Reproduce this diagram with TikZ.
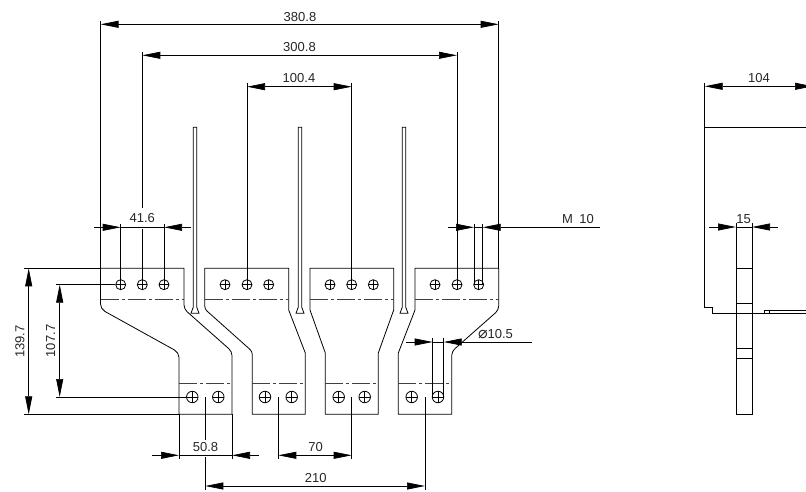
\documentclass[tikz,border=0pt]{standalone}
\usepackage{fontspec}
\setmainfont{Liberation Sans}
\newfontfamily\symfont{DejaVu Sans}
\usetikzlibrary{arrows.meta}
\tikzset{
    part/.style={draw, line width=0.8pt},
    centre/.style={draw, line width=0.8pt, black!75, dash pattern=on 18pt off 3pt on 3pt off 3pt},
    ext/.style={draw, line width=0.7pt},
    dim/.style={draw, line width=0.7pt, {Triangle[length=18pt,width=7pt]}-{Triangle[length=18pt,width=7pt]}},
    tip/.style={-{Triangle[length=18pt,width=7pt]}, line width=0.7pt},
    lbl/.style={font=\fontsize{13}{13}\selectfont, inner sep=0pt, text=black!85},
    hole/.style={circle, draw, line width=0.8pt, inner sep=0pt, minimum size=#1,
        path picture={\draw[line width=0.6pt] (path picture bounding box.north) -- (path picture bounding box.south)
            (path picture bounding box.west) -- (path picture bounding box.east);}},
    hole/.default=10pt
}
\begin{document}
\begin{tikzpicture}[x=1pt, y=-1pt]
    \useasboundingbox (0,0) rectangle (806,492);
    % upper and lower holes
    \foreach \nm/\xx in {a1/120.7, a2/142.3, a3/164, b1/225, b2/247, b3/268.7, c1/330, c2/351.7, c3/373.3, d1/435, d2/457, d3/478.7}
        \node[hole] (\nm) at (\xx,284.7) {};
    \foreach \nm/\xx in {e1/192.3, e2/218.3, f1/265, f2/291.7, g1/338.7, g2/364.7, h1/411.7, h2/438}
        \node[hole=11.5pt] (\nm) at (\xx,397) {};
    % plates
    \draw[part] (100.5,268.3) -- (184,268.3) [rounded corners=4pt] -- (184,309) -- (232,351.5) [sharp corners] -- (232,414.3) -- (179,414.3) [rounded corners=5pt] -- (179,352.5) -- (100.5,309) [sharp corners] -- cycle;
    \draw[part] (204.7,268.3) -- (288.7,268.3) -- (288.7,310) -- (305.3,353) -- (305.3,414.3) -- (252.3,414.3) [rounded corners=3pt] -- (252.3,351.5) -- (204.7,309) [sharp corners] -- cycle;
    \draw[part] (310,268.3) -- (393.7,268.3) -- (393.7,310) -- (378.3,353) -- (378.3,414.3) -- (325.3,414.3) -- (325.3,353) -- (310,310) -- cycle;
    \draw[part] (415,268.3) -- (498.7,268.3) [rounded corners=4pt] -- (498.7,310) -- (451.7,351.5) [sharp corners] -- (451.7,414.3) -- (398.3,414.3) -- (398.3,353) -- (415,310) -- cycle;
    % centre lines
    \foreach \xa/\xb in {100.5/184, 204.7/288.7, 310/393.7, 415/498.7}
        \path[centre] (\xa,299.7) -- (\xb,299.7);
    \foreach \xa/\xb in {179/232, 252.3/305.3, 325.3/378.3, 398.3/451.7}
        \path[centre] (\xa,383) -- (\xb,383);
    % thin pins
    \foreach \xx in {195, 300, 404}
        \draw[part] (\xx-1.7,127.3) -- (\xx+1.7,127.3) -- (\xx+1.7,307) -- (\xx+4,313.3) -- (\xx-4,313.3) -- (\xx-1.7,307) -- cycle;
    % side view
    \coordinate (s1) at (704.7,86.3);
    \coordinate (s2) at (813,86.3);
    \draw[part] (s1) -- (704.7,307.7) -- (712.3,307.7) -- (712.3,313.3) -- (736,313.3);
    \draw[part] (704.7,127.3) -- (806,127.3);
    \draw[part] (736,227) rectangle (752,414.3);
    \foreach \yy in {268.3, 303.3, 313, 348.7, 358}
        \draw[part] (736,\yy) -- (752,\yy);
    \draw[part] (752,313.3) -- (806,313.3);
    \draw[part] (806,310.7) -- (764,310.7) -- (764,313.3);
    \draw[part] (769,310.7) -- (769,313.3);
    \draw[ext] (704.7,83) -- (s1);
    \path[dim] (s1) -- (s2);
    \node[lbl] (n104) at (759,78) {104};
    \coordinate (w1) at (736,227);
    \coordinate (w2) at (752,227);
    \draw[ext] (736,223) -- (w1) (752,223) -- (w2);
    \draw[tip] (718,227) -- (w1);
    \draw[tip] (770,227) -- (w2);
    \draw[ext] (709.3,227) -- (718,227) (770,227) -- (778.3,227);
    \node[lbl] (n15) at (743.7,219) {15};
    % top dimensions
    \coordinate (t1) at (100.5,24.3);
    \coordinate (t2) at (498.7,24.3);
    \coordinate (u1) at (142.3,55.3);
    \coordinate (u2) at (457,55.3);
    \coordinate (v1) at (247,86.7);
    \coordinate (v2) at (351.7,86.7);
    \path[dim] (t1) -- (t2);
    \path[dim] (u1) -- (u2);
    \path[dim] (v1) -- (v2);
    \draw[ext] (100.5,21) -- (100.5,268.3);
    \draw[ext] (498.7,21) -- (498.7,268.3);
    \draw[ext] (142.3,52) -- (142.3,208) (142.3,229) -- (a2.center);
    \draw[ext] (457,52) -- (d2.center);
    \draw[ext] (247,83) -- (b2.center);
    \draw[ext] (351.7,83) -- (c2.center);
    \node[lbl] (n380) at (300,17) {380.8};
    \node[lbl] (n300) at (299.5,47.5) {300.8};
    \node[lbl] (n100) at (299,78.5) {100.4};
    % hole spacing and thread
    \coordinate (p1) at (120.7,227.3);
    \coordinate (p2) at (164,227.3);
    \draw[ext] (94,227.3) -- (101,227.3) (182.7,227.3) -- (190.7,227.3);
    \draw[tip] (101,227.3) -- (p1);
    \draw[tip] (182.7,227.3) -- (p2);
    \draw[ext] (p1) -- (p2);
    \draw[ext] (120.7,223.5) -- (a1.center);
    \draw[ext] (164,223.5) -- (a3.center);
    \node[lbl] (n41) at (142.3,218.5) {41.6};
    \coordinate (q1) at (474,227.3);
    \coordinate (q2) at (482.7,227.3);
    \draw[tip] (456,227.3) -- (q1);
    \draw[tip] (500.7,227.3) -- (q2);
    \draw[ext] (447.7,227.3) -- (456,227.3) (q1) -- (q2) (500.7,227.3) -- (600,227.3);
    \draw[ext] (474,223.5) -- (474,284.7);
    \draw[ext] (482.7,223.5) -- (482.7,284.7);
    \node[lbl] (m10) at (578,219) {M\hspace{3pt} 10};
    % left dimensions
    \coordinate (l1) at (28.7,268.3);
    \coordinate (l2) at (28.7,414.3);
    \coordinate (k1) at (59.7,284.7);
    \coordinate (k2) at (59.7,397);
    \path[dim] (l1) -- (l2);
    \path[dim] (k1) -- (k2);
    \draw[ext] (24.3,268.3) -- (100.5,268.3);
    \draw[ext] (24.3,414.3) -- (179,414.3);
    \draw[ext] (55.5,284.7) -- (a1.west);
    \draw[ext] (55.5,397) -- (e1.west);
    \node[lbl, rotate=90] (n139) at (20,341.5) {139.7};
    \node[lbl, rotate=90] (n107) at (50.7,341) {107.7};
    % bottom dimensions
    \coordinate (r1) at (179,455.3);
    \coordinate (r2) at (232,455.3);
    \draw[tip] (160.7,455.3) -- (r1);
    \draw[tip] (250,455.3) -- (r2);
    \draw[ext] (152.3,455.3) -- (160.7,455.3) (r1) -- (r2) (250,455.3) -- (258.7,455.3);
    \draw[ext] (179,414.3) -- (179,459.3);
    \draw[ext] (232,414.3) -- (232,459.3);
    \node[lbl] (n50) at (205.5,447) {50.8};
    \coordinate (o1) at (278.3,455.3);
    \coordinate (o2) at (351.7,455.3);
    \path[dim] (o1) -- (o2);
    \draw[ext] (278.3,397) -- (278.3,459.3);
    \draw[ext] (351.7,397) -- (351.7,459.3);
    \node[lbl] (n70) at (315.7,447) {70};
    \coordinate (z1) at (205.3,486);
    \coordinate (z2) at (425,486);
    \path[dim] (z1) -- (z2);
    \draw[ext] (205.3,397) -- (205.3,440) (205.3,457.3) -- (205.3,490);
    \draw[ext] (425,397) -- (425,490);
    \node[lbl] (n210) at (315.7,478) {210};
    % bore diameter
    \coordinate (y1) at (432.7,342);
    \coordinate (y2) at (443.7,342);
    \draw[tip] (415,342) -- (y1);
    \draw[tip] (462.7,342) -- (y2);
    \draw[ext] (406,342) -- (415,342) (y1) -- (y2) (462.7,342) -- (532.3,342);
    \draw[ext] (432.7,337.7) -- (432.7,397);
    \draw[ext] (443.7,337.7) -- (443.7,397);
    \node[lbl] (n10) at (495.5,333.7) {{\symfont\fontsize{16}{16}\selectfont ⌀}10.5};
\end{tikzpicture}
\end{document}
